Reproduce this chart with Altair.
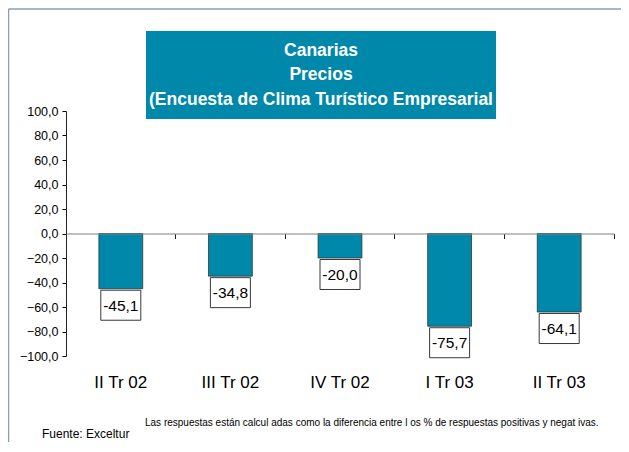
import altair as alt
import pandas as pd

categories = ["II Tr 02", "III Tr 02", "IV Tr 02", "I Tr 03", "II Tr 03"]
values = [-45.1, -34.8, -20.0, -75.7, -64.1]
value_labels = ["-45,1", "-34,8", "-20,0", "-75,7", "-64,1"]
y_ticks = [-100, -80, -60, -40, -20, 0, 20, 40, 60, 80, 100]
title_lines = ["Canarias", "Precios", "(Encuesta de Clima Turístico Empresarial"]
note_text = "Las respuestas están calcul adas como la diferencia entre l os % de respuestas positivas y negat ivas."
source_text = "Fuente: Exceltur"

df = pd.DataFrame({"cat": categories, "val": values, "lab": value_labels})
one = pd.DataFrame({"k": [0]})

TEAL = "#0088AA"
FONT = "Liberation Sans"
FRAME = "#8C9CB8"

xscale = alt.Scale(domain=categories, paddingInner=0.6, paddingOuter=0.3)
yscale = alt.Scale(domain=[-100, 100], nice=False)

base = alt.Chart(df)

bars = base.mark_bar(color=TEAL, stroke="#333333", strokeWidth=0.8).encode(
    x=alt.X("cat:N", scale=xscale, sort=categories,
            axis=alt.Axis(title=None, orient="bottom", domain=False, ticks=False, labelAngle=0,
                          labelFontSize=17, labelColor="black", labelFont=FONT,
                          labelPadding=18, grid=False)),
    y=alt.Y("val:Q", scale=yscale,
            axis=alt.Axis(title=None, values=y_ticks, grid=False, labelOverlap=False,
                          labelExpr="replace(format(datum.value, '.1f'), '.', ',')",
                          tickSize=4, tickColor="black", domainColor="#222222",
                          labelFontSize=12.5, labelColor="black", labelFont=FONT,
                          labelPadding=4)),
)

boxes = base.mark_rect(width=40, height=30, fill="white", stroke="#222222",
                       strokeWidth=0.9, yOffset=16.5).encode(
    x=alt.X("cat:N", scale=xscale, sort=categories,
            axis=alt.Axis(title=None, orient="bottom", offset=-122.5, labels=False,
                          domain=True, domainColor="#808080", ticks=True, tickSize=5,
                          tickColor="#222222", bandPosition=1.75, grid=False)),
    y=alt.Y("val:Q", scale=yscale, axis=None),
)

texts = base.mark_text(fontSize=15.5, font=FONT, color="black", baseline="middle",
                       dy=17).encode(
    x=alt.X("cat:N", scale=xscale, sort=categories, axis=None),
    y=alt.Y("val:Q", scale=yscale, axis=None),
    text="lab:N",
)

frame_top = alt.Chart(one).mark_rule(color=FRAME, strokeWidth=1.5).encode(
    x=alt.value(-57.5), x2=alt.value(560), y=alt.value(-102)
)
frame_left = alt.Chart(one).mark_rule(color=FRAME, strokeWidth=1.5).encode(
    x=alt.value(-57.5), y=alt.value(-102), y2=alt.value(340)
)

title_box = alt.Chart(one).mark_rect(color=TEAL).encode(
    x=alt.value(80), x2=alt.value(430), y=alt.value(-80), y2=alt.value(8)
)

title_layers = []
for line, yy in zip(title_lines, [-60, -36, -11]):
    title_layers.append(
        alt.Chart(one).mark_text(text=line, fontSize=17.5, fontWeight="bold", font=FONT,
                                 color="white", align="center", baseline="middle").encode(
            x=alt.value(255), y=alt.value(yy))
    )

note = alt.Chart(one).mark_text(text=note_text, fontSize=10, font=FONT, color="black",
                                align="left", baseline="alphabetic").encode(
    x=alt.value(79), y=alt.value(315))
source = alt.Chart(one).mark_text(text=source_text, fontSize=12, font=FONT, color="black",
                                  align="left", baseline="alphabetic").encode(
    x=alt.value(-24), y=alt.value(327))

chart = alt.layer(frame_top, frame_left, bars, boxes, texts,
                  title_box, *title_layers, note, source).resolve_axis(
    x="independent", y="independent"
).properties(
    width=548, height=245,
    autosize=alt.AutoSizeParams(type="none"),
    padding={"left": 58, "top": 103, "right": 7, "bottom": 86},
    background="white",
).configure(font=FONT).configure_view(strokeWidth=0).configure_axis(grid=False)

chart.save("out.html", embed_options={"renderer": "svg", "actions": False})
